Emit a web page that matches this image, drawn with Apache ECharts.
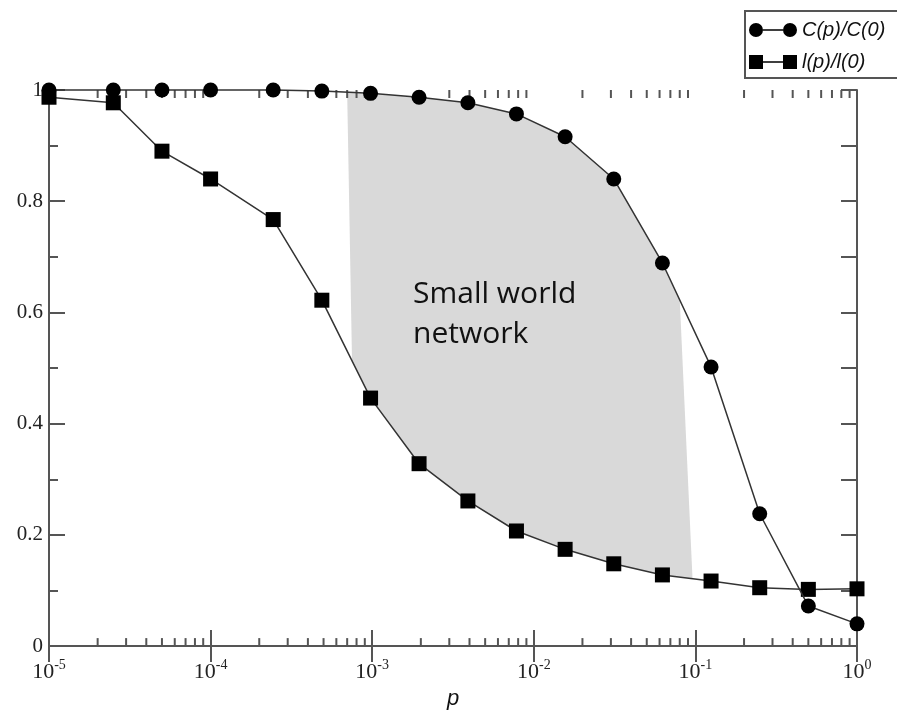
<!DOCTYPE html>
<html>
<head>
<meta charset="utf-8">
<script src="https://cdn.jsdelivr.net/npm/echarts@6/dist/echarts.min.js"></script>
<style>
html,body{margin:0;padding:0;background:#fff;}
#c{width:897px;height:715px;}
</style>
</head>
<body>
<div id="c"></div>
<script>
// ---- data ----
const pValues = [1e-5, 2.5e-5, 5e-5, 1e-4, 2.44e-4, 4.88e-4, 9.77e-4, 1.95e-3, 3.91e-3, 7.81e-3, 1.5625e-2, 3.125e-2, 6.25e-2, 0.125, 0.25, 0.5, 1];
const clustering = [1.0, 1.0, 1.0, 1.0, 1.0, 0.998, 0.994, 0.987, 0.977, 0.957, 0.916, 0.840, 0.689, 0.502, 0.238, 0.072, 0.040];
const pathLength = [0.987, 0.977, 0.890, 0.840, 0.767, 0.622, 0.446, 0.328, 0.261, 0.207, 0.174, 0.148, 0.128, 0.117, 0.105, 0.102, 0.103];
const seriesNames = ['C(p)/C(0)', 'l(p)/l(0)'];
const xDecades = [-5, -4, -3, -2, -1, 0];
const minorMultipliers = [2, 3, 4, 5, 6, 7, 8, 9];
// shaded "small world" region edges (p values)
const shadeLeftTop = 7.0e-4, shadeLeftBottom = 7.5e-4;
const shadeRightTop = 0.080, shadeRightBottom = 0.096;
const annotation = 'Small world\nnetwork';

// ---- helpers ----
const minorP = [];
xDecades.slice(0, -1).forEach(d => minorMultipliers.forEach(k => minorP.push([k * Math.pow(10, d), 0])));

function interpLog(xs, ys, p) {
  const lp = Math.log10(p);
  for (let i = 0; i < xs.length - 1; i++) {
    const a = Math.log10(xs[i]), b = Math.log10(xs[i + 1]);
    if (lp >= a && lp <= b) {
      const t = (lp - a) / (b - a);
      return ys[i] + t * (ys[i + 1] - ys[i]);
    }
  }
  return ys[ys.length - 1];
}
function shadePolygon() {
  const pts = [];
  pts.push([shadeLeftTop, interpLog(pValues, clustering, shadeLeftTop)]);
  pts.push([shadeLeftBottom, interpLog(pValues, pathLength, shadeLeftBottom)]);
  pValues.forEach((p, i) => { if (p > shadeLeftBottom && p < shadeRightBottom) pts.push([p, pathLength[i]]); });
  pts.push([shadeRightBottom, interpLog(pValues, pathLength, shadeRightBottom)]);
  pts.push([shadeRightTop, interpLog(pValues, clustering, shadeRightTop)]);
  for (let i = pValues.length - 1; i >= 0; i--) {
    if (pValues[i] > shadeLeftTop && pValues[i] < shadeRightTop) pts.push([pValues[i], clustering[i]]);
  }
  return pts;
}

const axisColor = '#555';
const lineCol = '#333';
const serif = 'Liberation Serif, Times New Roman, serif';

const chart = echarts.init(document.getElementById('c'));
chart.setOption({
  animation: false,
  backgroundColor: '#fff',
  grid: { left: 49, right: 40, top: 90, bottom: 60, containLabel: false },
  legend: {
    left: 745, top: 11, orient: 'vertical', itemGap: 12,
    itemWidth: 48, itemHeight: 14,
    borderWidth: 0, padding: [9, 4, 6, 4],
    textStyle: { fontFamily: 'Liberation Sans, Arial, sans-serif', fontStyle: 'italic', fontSize: 20, color: '#111' },
    data: [
      { name: seriesNames[0], icon: 'path://M0,7a7,7 0 1,0 14,0a7,7 0 1,0 -14,0zM34,7a7,7 0 1,0 14,0a7,7 0 1,0 -14,0zM14,6.25h20v1.5h-20z' },
      { name: seriesNames[1], icon: 'path://M0,0h14v14h-14zM34,0h14v14h-14zM14,6.25h20v1.5h-20z' }
    ]
  },
  xAxis: [
    {
      type: 'log', logBase: 10, min: 1e-5, max: 1, position: 'bottom',
      name: 'p', nameLocation: 'middle', nameGap: 38,
      nameTextStyle: { fontFamily: 'Liberation Sans, Arial, sans-serif', fontStyle: 'italic', fontSize: 22, color: '#111' },
      axisLine: { show: true, lineStyle: { color: axisColor, width: 2 } },
      axisTick: { show: true, inside: true, length: 16, lineStyle: { color: axisColor, width: 2 } },
      splitLine: { show: false },
      axisLabel: {
        margin: 12,
        formatter: v => '{b|10}{s|' + Math.round(Math.log10(v)) + '}',
        rich: {
          b: { fontFamily: serif, fontSize: 22, color: '#222' },
          s: { fontFamily: serif, fontSize: 14, color: '#222', padding: [0, 0, 14, 0] }
        }
      }
    },
    {
      type: 'log', logBase: 10, min: 1e-5, max: 1, position: 'top',
      axisLine: { show: true, lineStyle: { color: axisColor, width: 2 } },
      axisTick: { show: true, inside: true, length: 16, lineStyle: { color: axisColor, width: 2 } },
      axisLabel: { show: false }, splitLine: { show: false }
    }
  ],
  yAxis: [
    {
      type: 'value', min: 0, max: 1, interval: 0.2, position: 'left',
      axisLine: { show: true, lineStyle: { color: axisColor, width: 2 } },
      axisTick: { show: true, inside: true, length: 16, lineStyle: { color: axisColor, width: 2 } },
      minorTick: { show: true, splitNumber: 2, length: 9, lineStyle: { color: axisColor, width: 2 } },
      splitLine: { show: false },
      axisLabel: {
        margin: 6, fontFamily: serif, fontSize: 21, color: '#222',
        formatter: v => (v === 0 ? '0' : (Math.abs(v - 1) < 1e-9 ? '1' : v.toFixed(1)))
      }
    },
    {
      type: 'value', min: 0, max: 1, interval: 0.1, position: 'right',
      axisLine: { show: true, lineStyle: { color: axisColor, width: 2 } },
      axisTick: { show: true, inside: true, length: 16, lineStyle: { color: axisColor, width: 2 } },
      axisLabel: { show: false }, splitLine: { show: false }
    }
  ],
  graphic: [
    {
      type: 'text', left: 413, top: 274, z: 50,
      style: { text: annotation, fontFamily: 'Open Sans, sans-serif', fontSize: 30, lineHeight: 40, fill: '#111' }
    },
    {
      type: 'rect', z: 100, silent: true,
      shape: { x: 745, y: 11, width: 180, height: 67 },
      style: { fill: null, stroke: axisColor, lineWidth: 2 }
    }
  ],
  series: [
    {
      type: 'custom', name: 'shade', xAxisIndex: 0, yAxisIndex: 0, z: 1, silent: true,
      data: [[1e-3, 0.5]],
      renderItem: function (params, api) {
        const pts = shadePolygon().map(d => api.coord(d));
        return { type: 'polygon', shape: { points: pts }, style: { fill: '#d9d9d9', stroke: null } };
      }
    },
    {
      type: 'custom', name: 'minorTicks', xAxisIndex: 0, yAxisIndex: 0, z: 3, silent: true, clip: false,
      data: minorP,
      renderItem: function (params, api) {
        const p = api.value(0);
        const b = api.coord([p, 0]);
        const t = api.coord([p, 1]);
        const st = { stroke: axisColor, lineWidth: 2 };
        return {
          type: 'group', children: [
            { type: 'line', shape: { x1: b[0], y1: b[1], x2: b[0], y2: b[1] - 8 }, style: st },
            { type: 'line', shape: { x1: t[0], y1: t[1], x2: t[0], y2: t[1] + 8 }, style: st }
          ]
        };
      }
    },
    {
      type: 'line', name: seriesNames[1], xAxisIndex: 0, yAxisIndex: 0, z: 5, clip: false,
      data: pValues.map((p, i) => [p, pathLength[i]]),
      symbol: 'rect', symbolSize: 15,
      itemStyle: { color: '#000' },
      lineStyle: { color: lineCol, width: 1.5 }
    },
    {
      type: 'line', name: seriesNames[0], xAxisIndex: 0, yAxisIndex: 0, z: 6, clip: false,
      data: pValues.map((p, i) => [p, clustering[i]]),
      symbol: 'circle', symbolSize: 15,
      itemStyle: { color: '#000' },
      lineStyle: { color: lineCol, width: 1.5 }
    }
  ]
});
</script>
</body>
</html>
